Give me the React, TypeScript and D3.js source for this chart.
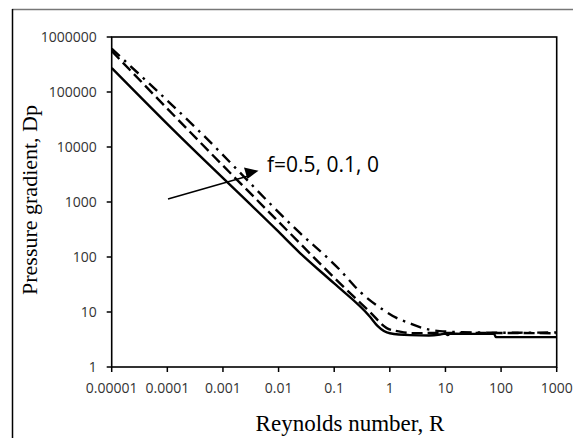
import React from 'react';
import * as d3 from 'd3';

// values (R, Dp)
const rSolid = [1e-5, 1.28e-4, 0.00925, 0.0243, 0.1, 0.44, 0.6, 1.0, 2.3, 5, 8, 10, 11, 12, 20, 75, 80, 1000];
const dpSolid = [273000, 20400, 310, 118, 33, 8.2, 5.6, 4.1, 3.8, 3.75, 3.9, 4.05, 3.8, 4.05, 4.0, 4.0, 3.5, 3.5];

const rDashed = [1e-5, 2.36e-4, 0.014, 0.1, 0.44, 0.88, 1.52, 2.6, 5, 10, 100, 1000];
const dpDashed = [556000, 20400, 310, 42, 10, 5.1, 4.4, 4.1, 4.15, 4.15, 4.15, 4.1];

const rDashDot = [1e-5, 3.56e-4, 0.0212, 0.127, 0.291, 0.764, 1.32, 2.31, 4.0, 7.9, 20, 100, 1000];
const dpDashDot = [612000, 20400, 310, 58, 23.4, 10.9, 7.8, 6.2, 5.06, 4.5, 4.3, 4.2, 4.25];

const xTicks = [1e-5, 1e-4, 1e-3, 1e-2, 0.1, 1, 10, 100, 1000];
const xTickLabels = ['0.00001', '0.0001', '0.001', '0.01', '0.1', '1', '10', '100', '1000'];
const yTicks = [1, 10, 100, 1000, 10000, 100000, 1000000];
const yTickLabels = ['1', '10', '100', '1000', '10000', '100000', '1000000'];

const W = 573;
const H = 438;
const left = 111.7, right = 556.7, top = 37, bottom = 367;

export default function App() {
  const x = d3.scaleLog().domain([1e-5, 1000]).range([left, right]);
  const y = d3.scaleLog().domain([1, 1e6]).range([bottom, top]);

  const line = d3.line<[number, number]>()
    .x(d => x(d[0]))
    .y(d => y(d[1]))
    .curve(d3.curveMonotoneX);

  const series = [
    { r: rSolid, dp: dpSolid, dash: 'none' },
    { r: rDashed, dp: dpDashed, dash: '11,5' },
    { r: rDashDot, dp: dpDashDot, dash: '11,6,2.5,6' },
  ];

  const tickFont = "'Open Sans', sans-serif";
  const titleFont = "'Liberation Serif', 'Times New Roman', serif";

  return (
    <svg width={W} height={H} style={{ position: 'absolute', left: 0, top: 0, background: '#fff' }}>
      <rect x={0} y={0} width={W} height={H} fill="#fff" />
      {/* outer frame */}
      <line x1={12} y1={9.5} x2={W} y2={9.5} stroke="#777" strokeWidth={1.5} />
      <line x1={12.5} y1={9} x2={12.5} y2={H} stroke="#000" strokeWidth={1.5} />

      <defs>
        <clipPath id="plot">
          <rect x={left} y={top} width={right - left} height={bottom - top} />
        </clipPath>
      </defs>

      {/* lines */}
      <g clipPath="url(#plot)">
        {series.map((s, i) => (
          <path key={i}
            d={line(s.r.map((r, j) => [r, s.dp[j]] as [number, number])) || ''}
            fill="none" stroke="#000" strokeWidth={2.4}
            strokeDasharray={s.dash} />
        ))}
      </g>

      {/* plot frame */}
      <rect x={left} y={top} width={right - left} height={bottom - top}
        fill="none" stroke="#000" strokeWidth={1.6} />

      {/* x ticks */}
      {xTicks.map((t, i) => (
        <g key={'x' + i}>
          <line x1={x(t)} x2={x(t)} y1={bottom} y2={bottom + 5} stroke="#000" strokeWidth={1.5} />
          <text x={x(t)} y={bottom + 26} textAnchor="middle" fontFamily={tickFont}
            fontSize={14} fill="#333">{xTickLabels[i]}</text>
        </g>
      ))}

      {/* y ticks */}
      {yTicks.map((t, i) => (
        <g key={'y' + i}>
          <line x1={left - 5} x2={left} y1={y(t)} y2={y(t)} stroke="#000" strokeWidth={1.5} />
          <text x={left - 15} y={y(t)} dy="0.36em" textAnchor="end" fontFamily={tickFont}
            fontSize={14} fill="#333">{yTickLabels[i]}</text>
        </g>
      ))}

      {/* axis titles */}
      <text x={350} y={431} textAnchor="middle" fontFamily={titleFont} fontSize={23} fill="#000">
        Reynolds number, R
      </text>
      <text transform={`translate(37,200) rotate(-90)`} textAnchor="middle"
        fontFamily={titleFont} fontSize={22} fill="#000">
        Pressure gradient, Dp
      </text>

      {/* annotation */}
      <line x1={168} y1={199} x2={250} y2={175.5} stroke="#000" strokeWidth={1.5} />
      <path d="M258.5,170.7 L244,167.6 L247.4,179 z" fill="#000" />
      <text x={267} y={172} fontFamily={tickFont} fontSize={21} fill="#000">f=0.5, 0.1, 0</text>
    </svg>
  );
}
